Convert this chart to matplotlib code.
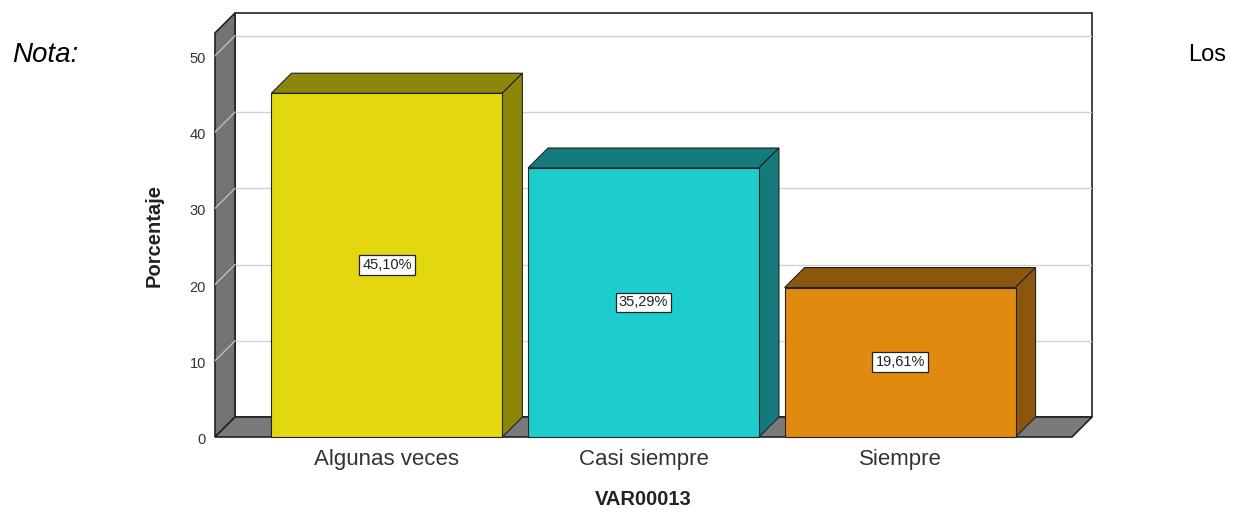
import matplotlib.pyplot as plt
from matplotlib.patches import Polygon

categories = ["Algunas veces", "Casi siempre", "Siempre"]
values = [45.10, 35.29, 19.61]
labels = ["45,10%", "35,29%", "19,61%"]
yticks = [0, 10, 20, 30, 40, 50]

front_colors = ["#E3D70F", "#1DCDCD", "#E08A10"]
side_colors = ["#8C860A", "#137B7B", "#8B570C"]

plt.rcParams['font.family'] = ['Liberation Sans', 'DejaVu Sans']

fig = plt.figure(figsize=(12.38, 5.12), dpi=100)
ax = fig.add_axes([215 / 1238, (512 - 437) / 512, (1092 - 215) / 1238, (437 - 13) / 512])

DX, DY = 0.078, 2.62      # 3D depth offset
X0, X1 = -0.67, 2.67      # front plane x range
YTOP = 53                 # wall height
W = 0.9                   # bar width

ax.set_xlim(X0, X1 + DX)
ax.set_ylim(0, YTOP + DY)
ax.axis('off')


def poly(pts, fc, ec="#222222", lw=0.8, z=1):
    ax.add_patch(Polygon(pts, closed=True, facecolor=fc, edgecolor=ec,
                         linewidth=lw, zorder=z, clip_on=False))


# back wall
poly([(X0 + DX, DY), (X1 + DX, DY), (X1 + DX, YTOP + DY), (X0 + DX, YTOP + DY)],
     "white", ec="#222222", lw=1.2, z=1)
# left wall
poly([(X0, 0), (X0 + DX, DY), (X0 + DX, YTOP + DY), (X0, YTOP)], "#737373", lw=1.2, z=2)
# floor
poly([(X0, 0), (X1, 0), (X1 + DX, DY), (X0 + DX, DY)], "#7A7A7A", lw=1.2, z=2)

# gridlines
for v in yticks[1:]:
    ax.plot([X0 + DX, X1 + DX], [v + DY, v + DY], color="#D2D2D2", lw=1.0, zorder=1.5)
    ax.plot([X0, X0 + DX], [v, v + DY], color="#BDBDBD", lw=1.0, zorder=2.5)
for v in yticks:
    ax.text(X0 - 0.035, v - 0.4, str(v), ha='right', va='center', fontsize=10.5, color="#333333")

# bars
for i, (v, fc, sc, lab) in enumerate(zip(values, front_colors, side_colors, labels)):
    l, r = i - W / 2, i + W / 2
    poly([(l, v), (r, v), (r + DX, v + DY), (l + DX, v + DY)], sc, z=3)
    poly([(r, 0), (r + DX, DY), (r + DX, v + DY), (r, v)], sc, z=3)
    poly([(l, 0), (r, 0), (r, v), (l, v)], fc, z=4)
    ax.text(i, v / 2, lab, ha='center', va='center', fontsize=10.5, color="#222222", zorder=5,
            bbox=dict(boxstyle='square,pad=0.2', facecolor='white', edgecolor='#222222', linewidth=0.9))
    ax.text(i, -3.0, categories[i], ha='center', va='center', fontsize=16, color="#333333")

ax.text((X0 + X1) / 2, -8.2, "VAR00013", ha='center', va='center', fontsize=14.5,
        fontweight='bold', color="#222222")
ax.text(X0 - 0.237, 26.4, "Porcentaje", ha='center', va='center', rotation=90,
        fontsize=14.5, fontweight='bold', color="#222222")

fig.text(12 / 1238, 1 - 55 / 512, "Nota:", fontsize=20, style='italic', va='center', ha='left')
fig.text(1226 / 1238, 1 - 55 / 512, "Los", fontsize=17, va='center', ha='right')

fig.savefig("out.png", dpi=100)
